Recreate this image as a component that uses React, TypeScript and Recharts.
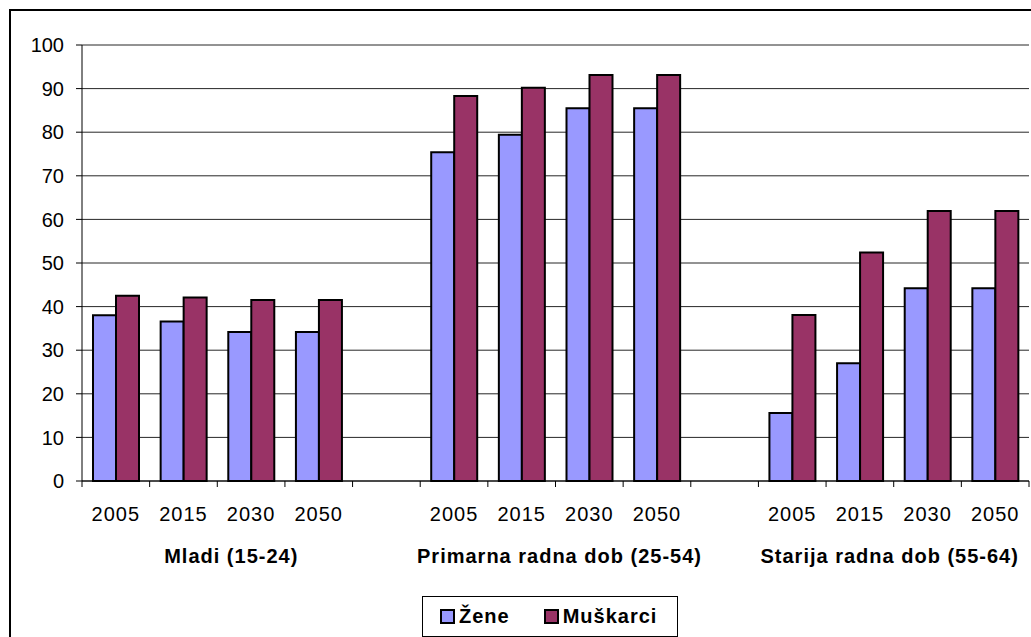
import React from "react";
import { BarChart, Bar, XAxis, YAxis, CartesianGrid, Legend } from "recharts";

const groups = ["Mladi (15-24)", "Primarna radna dob (25-54)", "Starija radna dob (55-64)"];
const years = ["2005", "2015", "2030", "2050"];
const zene = [
  [38.0, 36.6, 34.2, 34.2],
  [75.4, 79.4, 85.5, 85.5],
  [15.6, 27.0, 44.2, 44.2],
];
const muskarci = [
  [42.5, 42.1, 41.5, 41.5],
  [88.3, 90.2, 93.1, 93.1],
  [38.1, 52.4, 61.9, 61.9],
];
const yTicks = [0, 10, 20, 30, 40, 50, 60, 70, 80, 90, 100];
const seriesOrder = ["zene", "muskarci"];

// one empty category between the age groups, like the excel original
const data: any[] = [];
groups.forEach((g, gi) => {
  if (gi > 0) data.push({ key: `gap-${gi}`, year: "", group: -1, pos: -1, zene: null, muskarci: null });
  years.forEach((y, yi) =>
    data.push({ key: `${gi}-${y}`, year: y, group: gi, pos: yi, zene: zene[gi][yi], muskarci: muskarci[gi][yi] })
  );
});

const W = 1031;
const H = 637;
const margin = { top: 45, right: 2, left: 0, bottom: 126 };
const Y_AXIS_W = 82;
const STEP = (W - margin.left - margin.right - Y_AXIS_W) / data.length;
const FONT = "'Liberation Sans', Arial, sans-serif";
const groupNudge = [14, 4, -4];

const CategoryTick = ({ x, y, index }: any) => {
  const row = data[index];
  const half = STEP / 2;
  return (
    <g>
      <line x1={x - half} y1={y} x2={x - half} y2={y + 6} stroke="#000" />
      {index === data.length - 1 && <line x1={x + half} y1={y} x2={x + half} y2={y + 6} stroke="#000" />}
      <text x={x} y={y + 40} textAnchor="middle" fontFamily={FONT} fontSize={20} letterSpacing={1} fill="#000">
        {row.year}
      </text>
      {row.pos === 1 && (
        <text
          x={x + half + groupNudge[row.group]}
          y={y + 82}
          textAnchor="middle"
          fontFamily={FONT}
          fontSize={20}
          fontWeight="bold"
          letterSpacing={1}
          fill="#000"
        >
          {groups[row.group]}
        </text>
      )}
    </g>
  );
};

const LegendBox = ({ payload }: any) => {
  const items = [...(payload || [])].sort(
    (a: any, b: any) => seriesOrder.indexOf(a.dataKey) - seriesOrder.indexOf(b.dataKey)
  );
  return (
    <div
      style={{
        boxSizing: "border-box",
        width: 256,
        height: 41,
        border: "1px solid #000",
        background: "#fff",
        display: "flex",
        alignItems: "center",
        paddingLeft: 17,
        fontFamily: FONT,
        fontWeight: "bold",
        fontSize: 20,
        letterSpacing: 1,
        color: "#000",
      }}
    >
      {items.map((p: any, i: number) => (
        <div key={p.value} style={{ display: "flex", alignItems: "center", marginRight: i === 0 ? 34 : 0 }}>
          <span
            style={{
              display: "inline-block",
              boxSizing: "border-box",
              width: 15,
              height: 15,
              background: p.color,
              border: "2px solid #000",
              marginRight: 4,
            }}
          />
          <span>{p.value}</span>
        </div>
      ))}
    </div>
  );
};

export default function App() {
  return (
    <div style={{ position: "absolute", left: 0, top: 0, width: W, height: H, overflow: "hidden", background: "#fff" }}>
      <div
        style={{
          position: "absolute",
          left: 9,
          top: 9,
          width: W + 20,
          height: H + 20,
          border: "2px solid #000",
        }}
      />
      <div style={{ position: "absolute", left: 0, top: 0 }}>
        <BarChart width={W} height={H} data={data} margin={margin} barCategoryGap={11} barGap={0}>
          <CartesianGrid vertical={false} stroke="#000" strokeOpacity={0.85} />
          <XAxis
            dataKey="key"
            interval={0}
            tick={<CategoryTick />}
            tickLine={false}
            tickSize={0}
            tickMargin={0}
            height={30}
            axisLine={{ stroke: "#000" }}
          />
          <YAxis
            domain={[0, 100]}
            ticks={yTicks}
            width={Y_AXIS_W}
            tickSize={6}
            tickMargin={12}
            tick={{ fill: "#000", fontSize: 20, fontFamily: FONT }}
            tickLine={{ stroke: "#000" }}
            axisLine={{ stroke: "#000" }}
          />
          <YAxis
            yAxisId="frame"
            orientation="right"
            domain={[0, 100]}
            width={0}
            tick={false}
            tickLine={false}
            axisLine={{ stroke: "#808080", strokeWidth: 2 }}
          />
          <Legend
            layout="vertical"
            align="center"
            verticalAlign="middle"
            content={<LegendBox />}
            wrapperStyle={{ left: 422, top: 596, width: 256, height: 41 }}
          />
          <Bar dataKey="zene" name="Žene" fill="#9999FF" stroke="#000" strokeWidth={2} isAnimationActive={false} />
          <Bar dataKey="muskarci" name="Muškarci" fill="#993366" stroke="#000" strokeWidth={2} isAnimationActive={false} />
        </BarChart>
      </div>
    </div>
  );
}
